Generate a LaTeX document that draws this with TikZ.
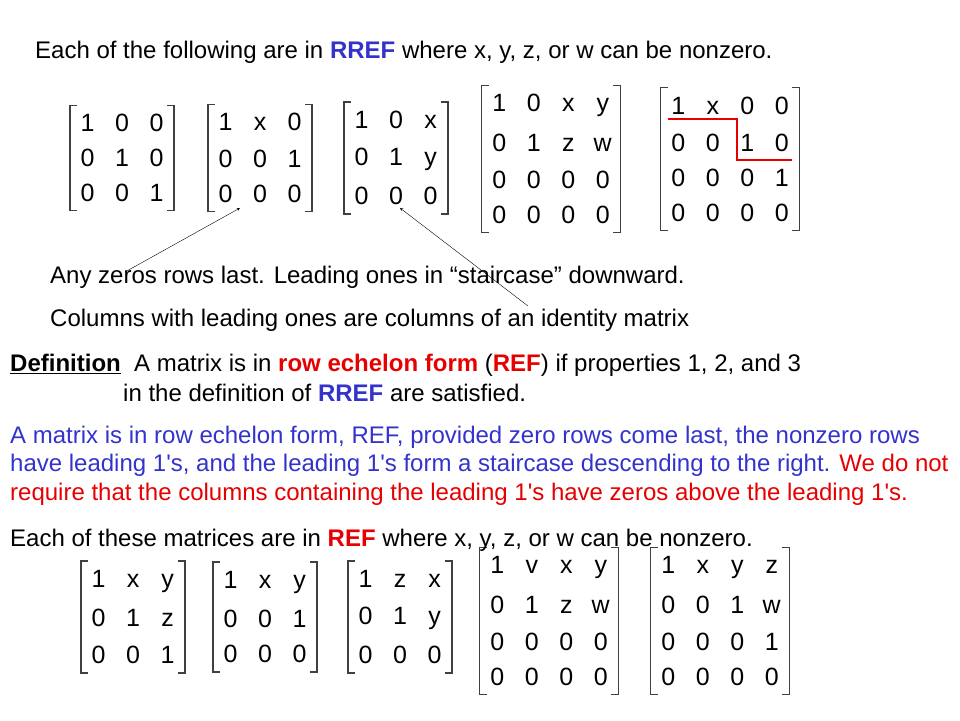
\documentclass[tikz,border=0pt]{standalone}
\usepackage{fontspec}
\setmainfont{Liberation Sans}
\usetikzlibrary{matrix}
\definecolor{myblue}{RGB}{51,51,204}
\definecolor{myred}{RGB}{230,0,0}
\newcommand{\apo}{\textquotesingle}
\tikzset{
  txt/.style={anchor=west,inner sep=0pt,font=\fontsize{24}{27}\selectfont},
  mat/.style={matrix of nodes,inner sep=0pt,
    nodes={minimum width=34.5pt,minimum height=35pt,inner sep=0pt,font=\fontsize{25}{27}\selectfont}},
  brk/.style={line width=1.3pt,draw=black!75},
  arr/.style={-stealth,thin}
}
\begin{document}
\begin{tikzpicture}[x=1pt,y=-1pt]
\useasboundingbox (0,0) rectangle (960,720);
\node[txt] (t1) at (35,52) {Each of the following are in \textcolor{myblue}{\textbf{RREF}} where x, y, z, or w can be nonzero.};
\matrix[mat] (a1) at (122,158) {1&0&0\\0&1&0\\0&0&1\\};
\matrix[mat] (a2) at (260,158) {1&x&0\\0&0&1\\0&0&0\\};
\matrix[mat] (a3) at (396,158) {1&0&x\\0&1&y\\0&0&0\\};
\matrix[mat] (a4) at (551,159) {1&0&x&y\\0&1&z&w\\0&0&0&0\\0&0&0&0\\};
\matrix[mat] (a5) at (730,159) {1&x&0&0\\0&0&1&0\\0&0&0&1\\0&0&0&0\\};
\matrix[mat] (b1) at (133,617) {1&x&y\\0&1&z\\0&0&1\\};
\matrix[mat] (b2) at (265,617) {1&x&y\\0&0&1\\0&0&0\\};
\matrix[mat] (b3) at (400,617) {1&z&x\\0&1&y\\0&0&0\\};
\matrix[mat] (b4) at (549,621) {1&v&x&y\\0&1&z&w\\0&0&0&0\\0&0&0&0\\};
\matrix[mat] (b5) at (720,621) {1&x&y&z\\0&0&1&w\\0&0&0&1\\0&0&0&0\\};
\foreach \m in {a1,a2,a3,a4,a5,b1,b2,b3,b4,b5}{
  \draw[brk] ([xshift=7pt]\m.north west) -- (\m.north west) -- (\m.south west) -- ([xshift=7pt]\m.south west);
  \draw[brk] ([xshift=-7pt]\m.north east) -- (\m.north east) -- (\m.south east) -- ([xshift=-7pt]\m.south east);
}
\coordinate (r1) at (668,119);
\coordinate (r2) at (737,119);
\coordinate (r3) at (737,160);
\coordinate (r4) at (792,160);
\draw[myred,line width=2.5pt] (r1) -- (r2) -- (r3) -- (r4);
\node[txt] (t2) at (50,277) {Any zeros rows last. Leading ones in “staircase” downward.};
\node[txt] (t3) at (50,320) {Columns with leading ones are columns of an identity matrix};
\coordinate (s1) at (125,272);
\coordinate (s2) at (528,306);
\draw[arr] (s1) -- (240,208);
\draw[arr] (s2) -- (400,208);
\node[txt] (t4) at (10,365) {\textbf{\underline{Definition}}\ \ A matrix is in \textcolor{myred}{\textbf{row echelon form}} (\textcolor{myred}{\textbf{REF}}) if properties 1, 2, and 3};
\node[txt] (t5) at (123,393) {in the definition of \textcolor{myblue}{\textbf{RREF}} are satisfied.};
\node[txt,text=myblue] (t6) at (10,437) {A matrix is in row echelon form, REF, provided zero rows come last, the nonzero rows};
\node[txt,text=myblue] (t7) at (10,465) {have leading 1\apo s, and the leading 1\apo s form a staircase descending to the right. \textcolor{myred}{We do not}};
\node[txt,text=myred] (t8) at (10,494) {require that the columns containing the leading 1\apo s have zeros above the leading 1\apo s.};
\node[txt] (t9) at (10,540) {Each of these matrices are in \textcolor{myred}{\textbf{REF}} where x, y, z, or w can be nonzero.};
\end{tikzpicture}
\end{document}
